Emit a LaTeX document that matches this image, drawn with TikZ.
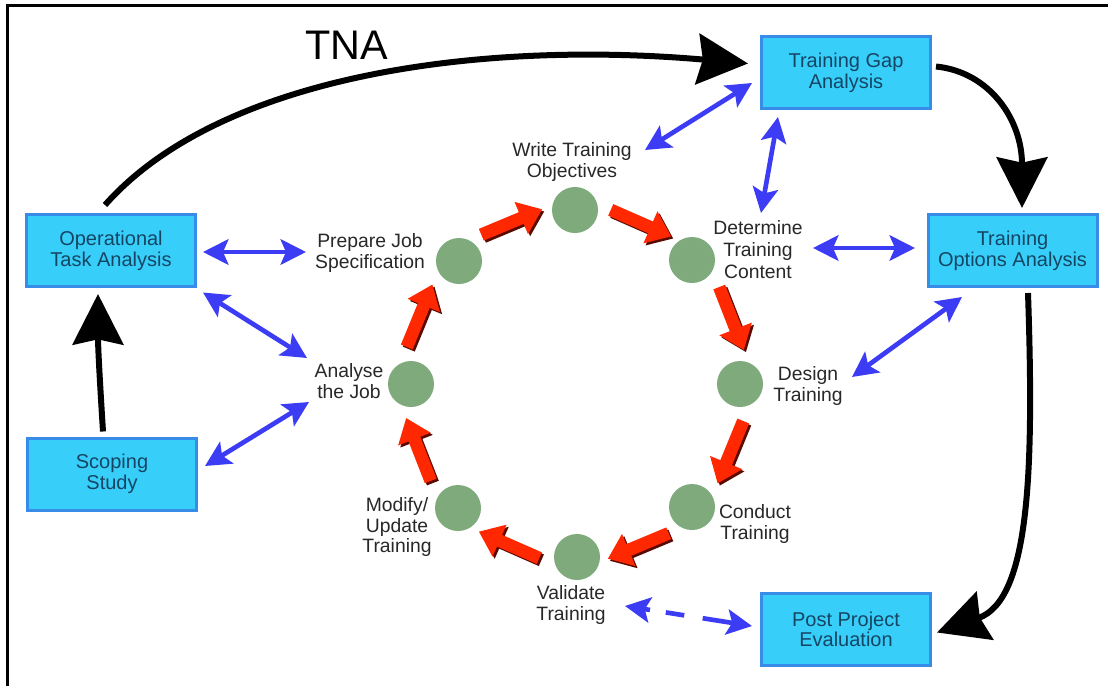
\documentclass[tikz,border=0pt]{standalone}
\usepackage{fontspec}
\setmainfont{Liberation Sans}
\usetikzlibrary{arrows.meta,calc}
\definecolor{boxfill}{RGB}{56,206,250}
\definecolor{boxline}{RGB}{54,140,230}
\definecolor{boxtext}{RGB}{20,70,100}
\definecolor{dotgreen}{RGB}{126,170,124}
\definecolor{lbltext}{RGB}{40,40,40}
\definecolor{arrowblue}{RGB}{60,60,245}
\definecolor{redarr}{RGB}{255,40,0}
\definecolor{redshadow}{RGB}{90,10,0}
\begin{document}
\begin{tikzpicture}[x=0.75pt,y=-0.75pt,
  tbox/.style={rectangle, draw=boxline, fill=boxfill, line width=2.25pt, text=boxtext,
    align=center, font=\fontsize{15}{15.5}\selectfont, inner sep=0pt,
    minimum width=126.75pt, minimum height=54pt},
  dot/.style={circle, fill=dotgreen, minimum size=34.5pt, inner sep=0pt},
  lbl/.style={align=center, text=lbltext, font=\fontsize{14.5}{15.5}\selectfont, inner sep=2pt},
  barrow/.style={draw=arrowblue, line width=3.5pt,
    {Stealth[length=19pt,width=19pt,inset=4pt]}-{Stealth[length=19pt,width=19pt,inset=4pt]}},
  karrow/.style={draw=black, line width=4.5pt, -{Stealth[length=38pt,width=38pt,inset=4pt]}},
  rarrow/.style={draw=redarr, line width=9.5pt, -{Triangle[length=17pt,width=25pt]}},
  rshadow/.style={draw=redshadow, line width=9.5pt, -{Triangle[length=17pt,width=25pt]}}
]
\fill[white] (0,0) rectangle (1108,686);
\useasboundingbox (0,0) rectangle (1108,686);
% frame
\draw[line width=2.25pt] (7.5,686) -- (7.5,5) -- (1108,5);

% boxes
\node[tbox] (gap)   at (846,72.5)   {Training Gap\\Analysis};
\node[tbox] (opt)   at (1012.5,250.5) {Training\\Options Analysis};
\node[tbox] (ota)   at (111,250.5)  {Operational\\Task Analysis};
\node[tbox] (scope) at (112,474)    {Scoping\\Study};
\node[tbox] (ppe)   at (846,629.5)  {Post Project\\Evaluation};

% TNA label
\node[font=\fontsize{31}{31}\selectfont, inner sep=0pt] (tna) at (347,45) {TNA};

% ring circles
\coordinate (ring) at (575,384);
\node[dot] (write)    at (575,210) {};
\node[dot] (determ)   at (692,260) {};
\node[dot] (design)   at (740,384) {};
\node[dot] (conduct)  at (692,507) {};
\node[dot] (validate) at (577,557) {};
\node[dot] (modify)   at (458,508) {};
\node[dot] (analyse)  at (411,384) {};
\node[dot] (prepare)  at (459,261) {};

% labels
\node[lbl] (lwrite) at (572,162) {Write Training\\Objectives};
\node[lbl] (lprep)  at (370,253) {Prepare Job\\Specification};
\node[lbl] (lanal)  at (349,381) {Analyse\\the Job};
\node[lbl, font=\fontsize{14.5}{16.5}\selectfont] (ldet) at (758,250) {Determine\\Training\\Content};
\node[lbl] (ldes)   at (808,386) {Design\\Training};
\node[lbl] (lcond)  at (755,524) {Conduct\\Training};
\node[lbl] (lmod)   at (397,527) {Modify/\\Update\\Training};
\node[lbl] (lval)   at (571,605) {Validate\\Training};

% red cycle arrows
\foreach \a in {180,225,...,495}{
  \path ($(ring)+({\a+12}:172 and 178)$) coordinate (rt)
        ($(ring)+({\a+34}:172 and 178)$) coordinate (rh);
  \draw[rshadow, transform canvas={shift={(1.6pt,-1.6pt)}}] (rt) -- (rh);
  \draw[rarrow] (rt) -- (rh);
}

% black process arrows
\draw[karrow] ($(ota.north)+(-6,-8)$) .. controls (220,75) and (480,40) .. ($(gap.west)+(-12,-9)$);
\draw[karrow] ($(gap.east)+(4,-6)$) .. controls (990,72) and (1022,120) .. ($(opt.north)+(9.5,-5)$);
\draw[karrow] ($(scope.north)+(-9,-5)$) .. controls (101,400) and (98,350) .. ($(ota.south)+(-13,6)$);
\draw[karrow] ($(opt.south)+(15.5,5)$) .. controls (1034,470) and (1030,600) .. ($(ppe.east)+(5,3)$);

% blue two-way arrows
\draw[barrow] ($(ota)+(92,1.5)$) -- ($(lprep)+(-64,-1)$);
\draw[barrow] ($(ota)+(92,42)$) -- ($(lanal)+(-42,-23)$);
\draw[barrow] ($(scope)+(93,-8)$) -- ($(lanal)+(-40,21)$);
\draw[barrow] ($(lwrite)+(73,-12)$) -- ($(gap)+(-94,10.5)$);
\draw[barrow] ($(gap)+(-68,44.5)$) -- ($(ldet)+(3,-37)$);
\draw[barrow] ($(ldet)+(55,-2)$) -- ($(opt)+(-97.5,-2.5)$);
\draw[barrow] ($(ldes)+(44,-9)$) -- ($(opt)+(-50.5,46.5)$);
\draw[barrow, dash pattern={on 5pt off 12pt on 14pt off 14pt on 40pt}] ($(lval)+(54,1)$) -- ($(ppe)+(-94,-3.5)$);
\end{tikzpicture}
\end{document}
